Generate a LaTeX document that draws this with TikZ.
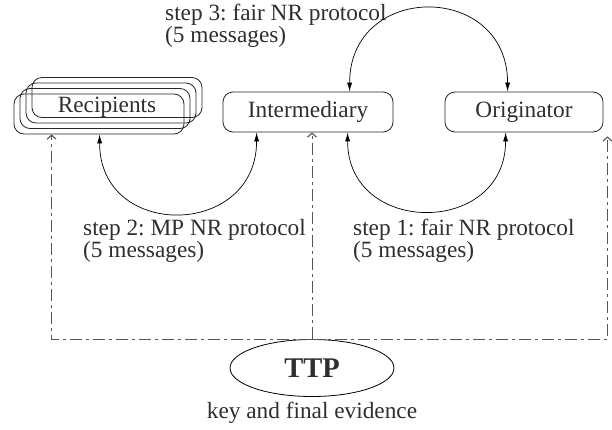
\documentclass[tikz,border=0pt]{standalone}
\usepackage{fontspec}
\setmainfont{Liberation Serif}
\usepackage{xcolor}
\usetikzlibrary{calc,arrows.meta,positioning,shapes.geometric}
\definecolor{ink}{HTML}{2E2E2E}
\definecolor{ddgray}{HTML}{555555}
\frenchspacing

\begin{document}
\begin{tikzpicture}[x=1pt,y=-1pt,font=\fontsize{23.3}{22}\selectfont,text=ink,
  box/.style={draw=black!85,rounded corners=10pt,minimum height=40pt,inner sep=0pt,line width=0.8pt},
  lbl/.style={inner sep=0pt,align=left},
  nr/.style={line width=0.7pt,{Latex[length=9pt,width=5pt]}-{Latex[length=9pt,width=5pt]}},
  dd/.style={draw=ddgray,line width=0.9pt,dash pattern=on 12pt off 4pt on 3pt off 4pt,-{Straight Barb[length=4pt,width=9pt,line width=1.1pt]}}]
\useasboundingbox (0,0) rectangle (612,429);
\node[box,minimum width=170pt] (inter) at (308,112) {Intermediary};
\node[box,minimum width=158pt] (orig) at (524,112) {Originator};
\foreach \i in {3,2,1} \node[box,minimum width=170pt] (r\i) at (99+6*\i,114-5.5*\i) {};
\node[box,minimum width=170pt] (rcpt) at (99,114) {};
\node[lbl] (rtxt) at (107,107) {Recipients};
\node[draw,ellipse,minimum width=164pt,minimum height=57pt,inner sep=0pt,line width=0.8pt,font=\fontsize{28.5}{30}\selectfont\bfseries] (ttp) at (312,368) {TTP};
\node[lbl,below=5pt of ttp] (key) {key and final evidence};
\node[lbl,anchor=north west] (s3) at (165,4) {step 3: fair NR protocol\\(5 messages)};
\node[lbl,anchor=north west] (s2) at (83,219) {step 2: MP NR protocol\\(5 messages)};
\node[lbl,anchor=north west] (s1) at (353,219) {step 1: fair NR protocol\\(5 messages)};
\draw[nr] ($(inter.north west)+(127,0)$) .. controls +(0,-110) and +(0,-110) .. ($(orig.north west)+(63,0)$);
\draw[nr] ($(rcpt.south west)+(86,0)$) .. controls +(0,106) and +(0,106) .. ($(inter.south west)+(34,0)$);
\draw[nr] ($(inter.south west)+(125,0)$) .. controls +(0,104) and +(0,104) .. ($(orig.south west)+(61,0)$);
\coordinate (ra) at ($(rcpt.south west)+(38,0)$);
\coordinate (oa) at ($(orig.south east)+(4,4)$);
\draw[dd] (ttp.north) -| (ra);
\draw[dd] (ttp.north) -| (oa);
\draw[dd] (ttp.north) -- (ttp.north |- inter.south);
\end{tikzpicture}
\end{document}
